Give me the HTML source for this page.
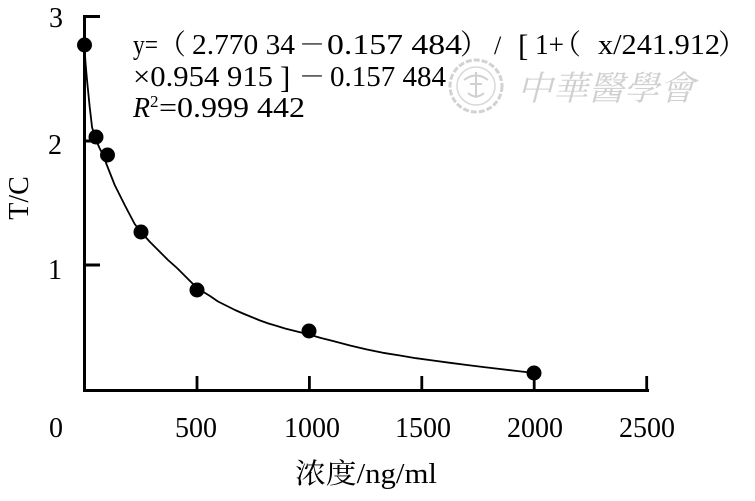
<!DOCTYPE html>
<html>
<head>
<meta charset="utf-8">
<style>
html,body{margin:0;padding:0;background:#fff;}
svg{display:block;}
text{font-family:"Liberation Serif","Noto Serif CJK SC",serif;fill:#000;}
.cjk{font-family:"Noto Serif CJK SC","Noto Sans CJK SC",serif;}
</style>
</head>
<body>
<svg width="755" height="501" viewBox="0 0 755 501" xmlns="http://www.w3.org/2000/svg">
<rect x="0" y="0" width="755" height="501" fill="#fff"/>

<!-- watermark -->
<g>
  <circle cx="476" cy="86" r="26" fill="none" stroke="#d2d2d2" stroke-width="3" stroke-dasharray="6 2"/>
  <circle cx="476" cy="86" r="19" fill="none" stroke="#d8d8d8" stroke-width="1.5"/>
  <path d="M464 80 q12 -9 24 0 M468 93 q8 7 16 0 M476 72 v26 M470 84 h12" fill="none" stroke="#d0d0d0" stroke-width="2"/>
  <text class="cjk" x="517" y="100" font-size="34" textLength="178" lengthAdjust="spacingAndGlyphs" font-style="italic" style="fill:#d0d0d0">中華醫學會</text>
</g>

<!-- axes -->
<rect x="83" y="15" width="3" height="377" fill="#000"/>
<rect x="83" y="15" width="17" height="3" fill="#000"/>
<rect x="83" y="139.5" width="17" height="3" fill="#000"/>
<rect x="83" y="263.5" width="17" height="3" fill="#000"/>
<rect x="83" y="389" width="566" height="3" fill="#000"/>
<rect x="195.6" y="376" width="2.8" height="14" fill="#000"/>
<rect x="308" y="376" width="2.8" height="14" fill="#000"/>
<rect x="420.4" y="376" width="2.8" height="14" fill="#000"/>
<rect x="532.8" y="376" width="2.8" height="14" fill="#000"/>
<rect x="645.3" y="376" width="2.8" height="14" fill="#000"/>

<!-- y tick labels -->
<text x="56" y="27" font-size="28" text-anchor="middle">3</text>
<text x="55" y="154" font-size="28" text-anchor="middle">2</text>
<text x="55" y="279" font-size="28" text-anchor="middle">1</text>

<!-- x tick labels -->
<text x="56" y="437" font-size="28" text-anchor="middle">0</text>
<text x="196" y="437" font-size="28" text-anchor="middle">500</text>
<text x="312" y="437" font-size="28" text-anchor="middle">1000</text>
<text x="423" y="437" font-size="28" text-anchor="middle">1500</text>
<text x="535" y="437" font-size="28" text-anchor="middle">2000</text>
<text x="647" y="437" font-size="28" text-anchor="middle">2500</text>

<!-- axis titles -->
<text x="295" y="483" font-size="28" textLength="142" lengthAdjust="spacingAndGlyphs">浓度/ng/ml</text>
<text transform="translate(28,198) rotate(-90)" font-size="28" text-anchor="middle">T/C</text>

<!-- curve -->
<polyline fill="none" stroke="#000" stroke-width="1.8" stroke-linejoin="round"
 points="84.5,45 85.3,60 86.3,72 87.3,83 88.5,95 89.7,107 91,118 92,127 94,134 96,140 99.5,148 103,155 108,168 114.7,185 124.7,205 134.7,224 141,232 150,242 160,252 168,260 177,268 185,276 193,284 201,290.5 210,296 218,301.5 227,306 235,310 243,313.5 251.5,317 260,320.5 268.5,323.5 277,326 285,328.5 293,330.5 301,332.5 309,334.5 321,338 333,341 350,345.5 367,349.5 383,352.8 400,355.5 416,358.2 433,360.5 450,362.8 467,365 483,367 500,369 517,371 534,373"/>

<!-- points -->
<g fill="#000">
  <circle cx="84.5" cy="45" r="7.5"/>
  <circle cx="96" cy="137" r="7.5"/>
  <circle cx="107.5" cy="155" r="7.5"/>
  <circle cx="141" cy="232" r="7.5"/>
  <circle cx="197" cy="290" r="7.5"/>
  <circle cx="309" cy="331" r="7.5"/>
  <circle cx="534" cy="373" r="7.5"/>
</g>

<!-- equation line 1 -->
<text x="133" y="54" font-size="28" textLength="25" lengthAdjust="spacingAndGlyphs">y=</text>
<text class="cjk" x="158" y="54" font-size="28">（</text>
<text x="192" y="54" font-size="28" textLength="103" lengthAdjust="spacingAndGlyphs">2.770 34</text>
<text class="cjk" x="299" y="54" font-size="27" textLength="26" lengthAdjust="spacingAndGlyphs">－</text>
<text x="327" y="54" font-size="28" textLength="135" lengthAdjust="spacingAndGlyphs">0.157 484</text>
<text class="cjk" x="460" y="54" font-size="28">）</text>
<text x="494" y="54" font-size="26">/</text>
<text x="518" y="56" font-size="31">[</text>
<text x="535" y="54" font-size="28" textLength="29" lengthAdjust="spacingAndGlyphs">1+</text>
<text class="cjk" x="553" y="54" font-size="28">（</text>
<text x="598" y="54" font-size="28" textLength="122" lengthAdjust="spacingAndGlyphs">x/241.912</text>
<text class="cjk" x="718" y="54" font-size="28">）</text>

<!-- equation line 2 -->
<text x="133" y="86" font-size="28" textLength="140" lengthAdjust="spacingAndGlyphs">×0.954 915</text>
<text x="280" y="88" font-size="31">]</text>
<text class="cjk" x="299" y="86" font-size="27" textLength="26" lengthAdjust="spacingAndGlyphs">－</text>
<text x="330" y="86" font-size="28" textLength="116" lengthAdjust="spacingAndGlyphs">0.157 484</text>

<!-- equation line 3 -->
<text x="133" y="117" font-size="28" font-style="italic" textLength="17" lengthAdjust="spacingAndGlyphs">R</text>
<text x="150" y="107" font-size="17">2</text>
<text x="159" y="117" font-size="28" textLength="146" lengthAdjust="spacingAndGlyphs">=0.999 442</text>
</svg>
</body>
</html>
